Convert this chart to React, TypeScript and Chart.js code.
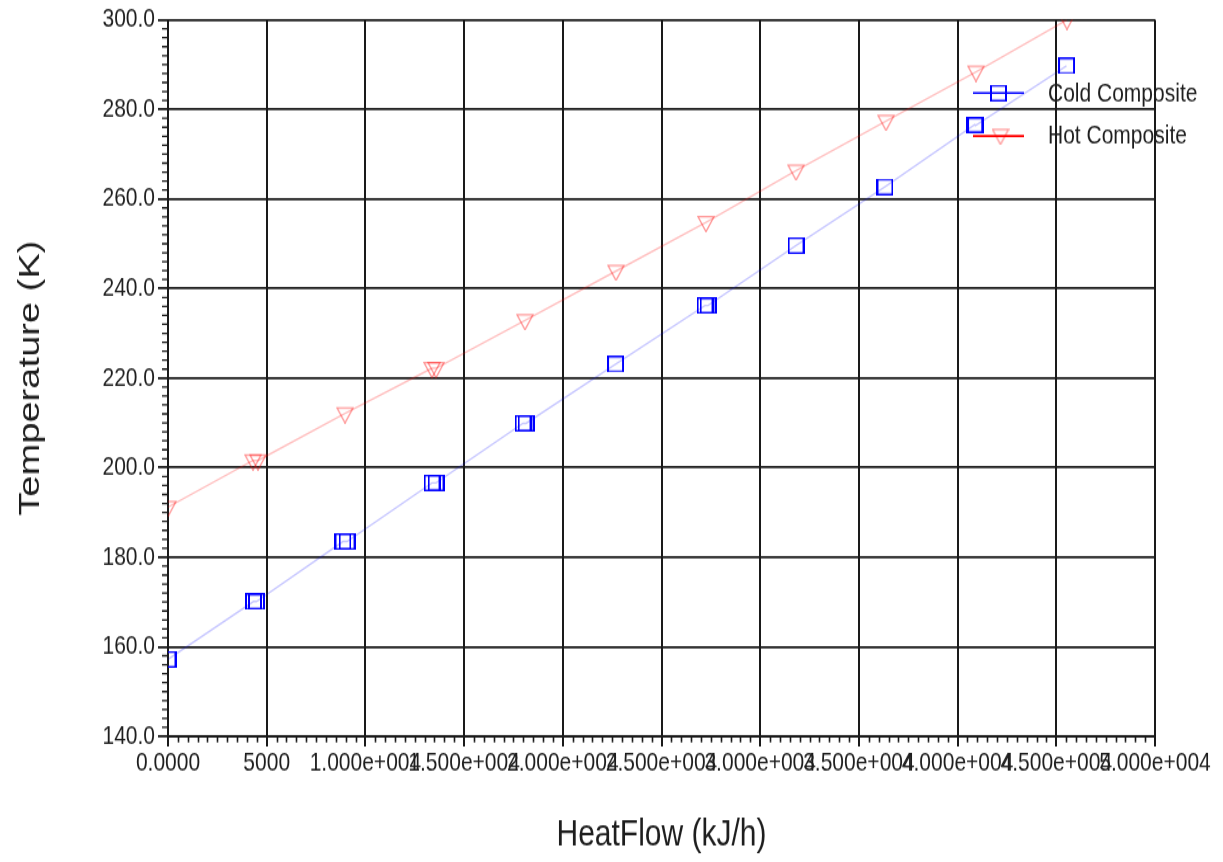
import React, { useEffect, useRef } from "react";
import { Chart, registerables } from "chart.js";

Chart.register(...registerables);

// ---- data ----
const COLD_X = [0, 4331, 4483, 8865, 9068, 13374, 13577, 17984, 18136, 22670, 27204, 27356, 31814, 36322, 40870, 40907, 45517];
const COLD_T = [157.2, 170.1, 170.1, 183.5, 183.5, 196.6, 196.6, 209.9, 209.9, 223.1, 236.2, 236.2, 249.6, 262.7, 276.6, 276.4, 289.7];

const HOT_X = [0, 4306, 4559, 8967, 13374, 13577, 18085, 22695, 27254, 31814, 36373, 40932, 45542];
const HOT_T = [191.2, 201.6, 201.6, 212.1, 222.2, 222.2, 232.9, 243.9, 254.8, 266.3, 277.4, 288.4, 300.0];

const X_TICK_VALUES = [0, 5000, 10000, 15000, 20000, 25000, 30000, 35000, 40000, 45000, 50000];
const X_TICK_LABELS = ["0.0000", "5000", "1.000e+004", "1.500e+004", "2.000e+004", "2.500e+004", "3.000e+004", "3.500e+004", "4.000e+004", "4.500e+004", "5.000e+004"];
const Y_TICK_VALUES = [140, 160, 180, 200, 220, 240, 260, 280, 300];
const Y_TICK_LABELS = ["140.0", "160.0", "180.0", "200.0", "220.0", "240.0", "260.0", "280.0", "300.0"];

const SERIES_NAMES = ["Cold Composite", "Hot Composite"];
const X_TITLE = "HeatFlow (kJ/h)";
const Y_TITLE = "Temperature (K)";

// The reference is vertically stretched; render at a smaller height and stretch with CSS.
const OUT_W = 1223;
const OUT_H = 862;
const CANVAS_H = 679;
const SY = OUT_H / CANVAS_H;

function makeSquare(): HTMLCanvasElement {
  const c = document.createElement("canvas");
  const w = 17;
  const h = Math.round(17 / SY);
  c.width = w;
  c.height = h;
  const g = c.getContext("2d")!;
  g.fillStyle = "#0000ff";
  const t = 1.7 / SY;
  g.fillRect(0, 0, 2, h);
  g.fillRect(w - 2, 0, 2, h);
  g.fillRect(0, 0, w, t);
  g.fillRect(0, h - t, w, t);
  return c;
}

function makeTriangle(): HTMLCanvasElement {
  const c = document.createElement("canvas");
  const w = 18;
  const h = 16;
  c.width = w;
  c.height = h;
  const g = c.getContext("2d")!;
  g.strokeStyle = "rgba(255,0,0,0.42)";
  g.lineWidth = 1.3;
  const top = h / 2 - 5.5 / SY;
  const apex = h / 2 + 9.5 / SY;
  g.beginPath();
  g.moveTo(1, top);
  g.lineTo(w - 1, top);
  g.lineTo(w / 2, apex);
  g.closePath();
  g.stroke();
  return c;
}

export default function App() {
  const ref = useRef<HTMLCanvasElement | null>(null);

  useEffect(() => {
    const canvas = ref.current;
    if (!canvas) return;

    const family = "'Liberation Sans', Arial, Helvetica, sans-serif";
    const tickSize = 21;
    const titleSize = 30;
    const legendSize = 21;
    const textColor = "#1e1e1e";
    const squareImg = makeSquare();
    const triImg = makeTriangle();

    const minorTicks = {
      id: "minorTicks",
      afterDraw(chart: any) {
        const { ctx, chartArea } = chart;
        const xs = chart.scales.x;
        const ys = chart.scales.y;
        ctx.save();
        ctx.strokeStyle = "#1a1a1a";
        ctx.lineWidth = 1.3;
        ctx.beginPath();
        for (let v = 140; v <= 300; v += 2) {
          if (v % 20 === 0) continue;
          const y = ys.getPixelForValue(v);
          ctx.moveTo(chartArea.left - 6, y);
          ctx.lineTo(chartArea.left, y);
        }
        ctx.stroke();
        ctx.lineWidth = 1.6;
        ctx.beginPath();
        for (let v = 0; v <= 50000; v += 500) {
          if (v % 5000 === 0) continue;
          const x = Math.round(xs.getPixelForValue(v)) + 0.5;
          ctx.moveTo(x, chartArea.bottom);
          ctx.lineTo(x, chartArea.bottom + 6 / SY);
        }
        ctx.stroke();
        ctx.restore();
      },
    };

    const legendPlugin = {
      id: "customLegend",
      afterDatasetsDraw(chart: any) {
        const { ctx, chartArea } = chart;
        const x0 = chartArea.right - 182;
        const x1 = chartArea.right - 131;
        const xm = (x0 + x1) / 2;
        const tx = chartArea.right - 107;
        const y1 = 93 / SY;
        const y2 = 136 / SY;
        ctx.save();
        // cold
        ctx.strokeStyle = "#0000ff";
        ctx.lineWidth = 2 / SY;
        ctx.beginPath();
        ctx.moveTo(x0, y1);
        ctx.lineTo(x1, y1);
        ctx.stroke();
        ctx.drawImage(squareImg, xm - squareImg.width / 2, y1 - squareImg.height / 2);
        // hot
        ctx.strokeStyle = "#ff0000";
        ctx.beginPath();
        ctx.moveTo(x0, y2);
        ctx.lineTo(x1, y2);
        ctx.stroke();
        ctx.drawImage(triImg, xm + 2 - triImg.width / 2, y2 - 1 / SY - triImg.height / 2);
        // text
        ctx.fillStyle = textColor;
        ctx.font = `${legendSize}px ${family}`;
        ctx.textAlign = "left";
        ctx.textBaseline = "middle";
        ctx.fillText(SERIES_NAMES[0], tx, 94 / SY);
        ctx.fillText(SERIES_NAMES[1], tx, 136 / SY);
        ctx.restore();
      },
    };

    const chart = new Chart(canvas, {
      type: "scatter",
      data: {
        datasets: [
          {
            label: SERIES_NAMES[0],
            data: COLD_X.map((x, i) => ({ x, y: COLD_T[i] })),
            showLine: true,
            borderColor: "rgba(0,0,255,0.22)",
            borderWidth: 1.4,
            pointStyle: squareImg,
            pointRadius: 8,
            clip: 0,
          } as any,
          {
            label: SERIES_NAMES[1],
            data: HOT_X.map((x, i) => ({ x, y: HOT_T[i] })),
            showLine: true,
            borderColor: "rgba(255,0,0,0.25)",
            borderWidth: 1.4,
            pointStyle: triImg,
            pointRadius: 8,
            clip: 0,
          } as any,
        ],
      },
      options: {
        animation: false,
        responsive: false,
        devicePixelRatio: 1,
        layout: { padding: { top: Math.round(19 / SY), right: 68, left: 0, bottom: 0 } },
        plugins: {
          legend: { display: false },
          tooltip: { enabled: false },
        },
        scales: {
          x: {
            type: "linear",
            min: 0,
            max: 50000,
            afterBuildTicks: (scale: any) => {
              scale.ticks = X_TICK_VALUES.map((v) => ({ value: v }));
            },
            afterFit: (scale: any) => {
              scale.height = CANVAS_H - Math.round(736 / SY);
            },
            ticks: {
              autoSkip: false,
              maxRotation: 0,
              minRotation: 0,
              padding: 1,
              color: textColor,
              font: { family, size: tickSize },
              callback: (v: any, i: number) => X_TICK_LABELS[i] ?? String(v),
            },
            grid: {
              color: "#1a1a1a",
              lineWidth: 2,
              drawTicks: true,
              tickLength: 8,
              tickColor: "#1a1a1a",
              tickWidth: 2,
            },
            border: { display: true, color: "#1a1a1a", width: 2 },
            title: {
              display: true,
              text: X_TITLE,
              color: textColor,
              font: { family, size: titleSize },
              padding: { top: 0, bottom: 3 },
            },
          },
          y: {
            type: "linear",
            min: 140,
            max: 300,
            afterBuildTicks: (scale: any) => {
              scale.ticks = Y_TICK_VALUES.map((v) => ({ value: v }));
            },
            afterFit: (scale: any) => {
              scale.width = 168;
            },
            ticks: {
              autoSkip: false,
              padding: 3,
              color: textColor,
              font: { family, size: tickSize },
              callback: (v: any, i: number) => Y_TICK_LABELS[i] ?? String(v),
            },
            grid: {
              color: "#1a1a1a",
              lineWidth: 1.8,
              drawTicks: true,
              tickLength: 10,
              tickColor: "#1a1a1a",
              tickWidth: 1.8,
            },
            border: { display: true, color: "#1a1a1a", width: 2 },
            title: {
              display: true,
              text: Y_TITLE,
              color: textColor,
              font: { family, size: titleSize },
              padding: { top: 13, bottom: 0 },
            },
          },
        },
      } as any,
      plugins: [minorTicks, legendPlugin],
    });

    return () => {
      chart.destroy();
    };
  }, []);

  return (
    <div style={{ position: "fixed", left: 0, top: 0, width: OUT_W, height: OUT_H, background: "#fff" }}>
      <canvas
        ref={ref}
        width={OUT_W}
        height={CANVAS_H}
        style={{ width: `${OUT_W}px`, height: `${OUT_H}px`, display: "block" }}
      />
    </div>
  );
}
